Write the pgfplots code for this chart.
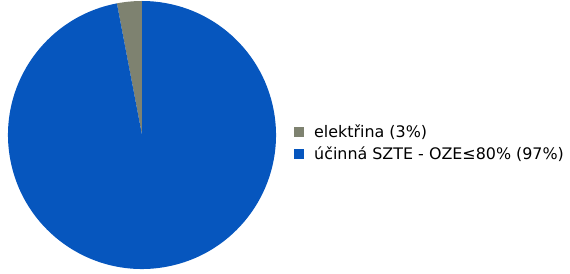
\documentclass[border=0pt]{standalone}
\usepackage{pgfplots}
\pgfplotsset{compat=1.18}
\usepackage{fontspec}
\setmainfont{DejaVu Sans}
\definecolor{elgray}{RGB}{126,130,112}
\definecolor{pieblue}{RGB}{6,86,190}
\def\valA{3}
\def\valB{97}
\pgfmathsetmacro\angA{90+3.6*\valA}
\pgfmathsetmacro\angB{\angA+3.6*\valB}
\begin{document}
\begin{tikzpicture}
\begin{axis}[
  width=570pt, height=273pt, scale only axis,
  xmin=0, xmax=570, ymin=0, ymax=273,
  hide axis, clip=false,
  legend style={at={(axis cs:291,130)}, anchor=west, draw=none, fill=none,
    font=\fontsize{15.9}{18}\selectfont, row sep=5.5pt,
    nodes={inner xsep=0pt, inner ysep=1pt}},
  legend cell align=left,
]
\fill[elgray] (axis cs:142,138) -- ([shift={(90:134pt)}]axis cs:142,138)
  arc[start angle=90, end angle=\angA, radius=134pt] -- cycle;
\fill[pieblue] (axis cs:142,138) -- ([shift={(\angA:134pt)}]axis cs:142,138)
  arc[start angle=\angA, end angle=\angB, radius=134pt] -- cycle;
\addlegendimage{legend image code/.code={\fill[elgray,draw=none] (0pt,-5pt) rectangle (10pt,5pt); \path[draw=none] (0pt,0pt) -- (20pt,0pt);}}
\addlegendentry{elektřina (3\%)}
\addlegendimage{legend image code/.code={\fill[pieblue,draw=none] (0pt,-5pt) rectangle (10pt,5pt); \path[draw=none] (0pt,0pt) -- (20pt,0pt);}}
\addlegendentry{účinná SZTE - OZE≤80\% (97\%)}
\end{axis}
\pgfresetboundingbox
\path (0pt,0pt) rectangle (570pt,273pt);
\end{tikzpicture}
\end{document}
